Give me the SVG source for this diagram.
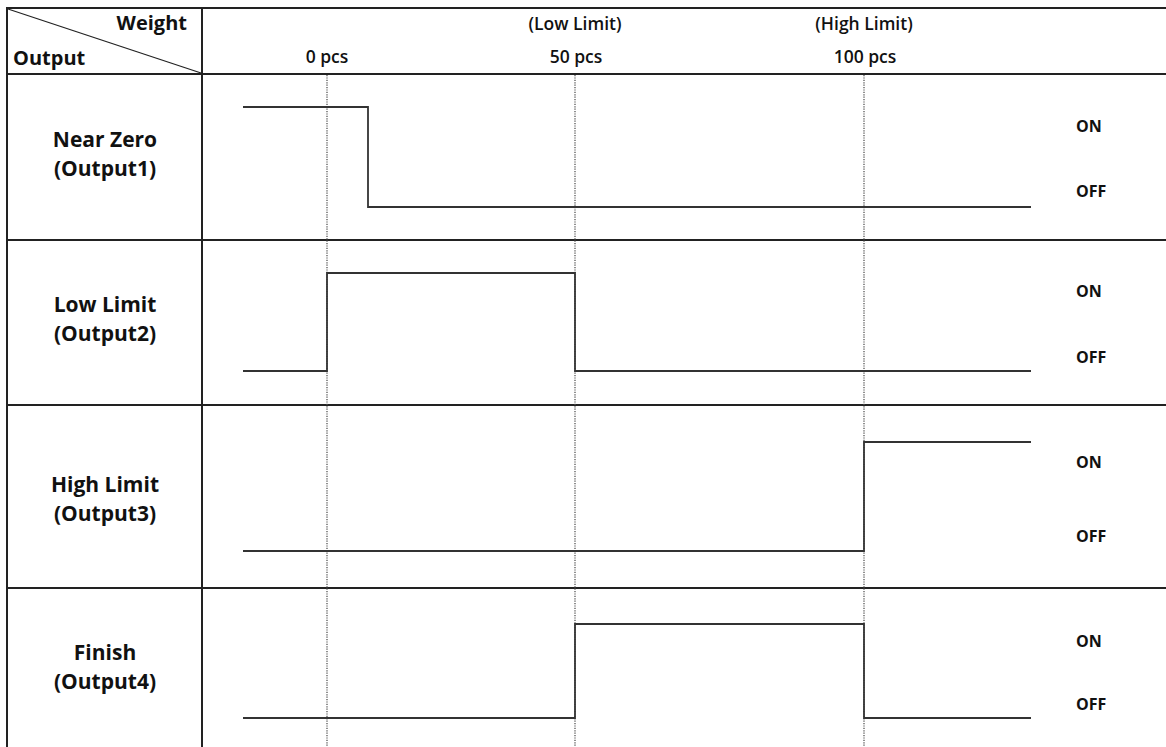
<svg xmlns="http://www.w3.org/2000/svg" width="1166" height="747" viewBox="0 0 1166 747">
<style>
.grid{stroke:#222;stroke-width:2;fill:none}
.diag{stroke:#222;stroke-width:1.3;fill:none}
.dot{stroke:#555;stroke-width:1.3;stroke-dasharray:1.2 1.2;fill:none}
.sig{stroke:#333;stroke-width:1.8;fill:none}
.hdr{font-family:"Open Sans","Liberation Sans",sans-serif;font-weight:700;font-size:20px;fill:#111}
.ax{font-family:"Open Sans","Liberation Sans",sans-serif;font-weight:600;font-size:17.5px;fill:#111;text-anchor:middle}
.lbl{font-family:"Open Sans","Liberation Sans",sans-serif;font-weight:700;font-size:21px;fill:#111;text-anchor:middle}
.st{font-family:"Open Sans","Liberation Sans",sans-serif;font-weight:700;font-size:16px;fill:#111}
</style>
<rect width="1166" height="747" fill="#fff"/>
<g id="table">
<line class="grid" x1="6" y1="8" x2="1166" y2="8"/>
<line class="grid" x1="6" y1="74" x2="1166" y2="74"/>
<line class="grid" x1="6" y1="240" x2="1166" y2="240"/>
<line class="grid" x1="6" y1="405" x2="1166" y2="405"/>
<line class="grid" x1="6" y1="588" x2="1166" y2="588"/>
<line class="grid" x1="7" y1="7" x2="7" y2="747"/>
<line class="grid" x1="202" y1="7" x2="202" y2="747"/>
<line class="diag" x1="8" y1="9" x2="201" y2="73"/>
<text class="hdr" x="187" y="30" text-anchor="end">Weight</text>
<text class="hdr" x="13" y="65">Output</text>
</g>
<g id="axis">
<text class="ax" x="327" y="63">0 pcs</text>
<text class="ax" x="575" y="30">(Low Limit)</text>
<text class="ax" x="576" y="63">50 pcs</text>
<text class="ax" x="864" y="30">(High Limit)</text>
<text class="ax" x="865" y="63">100 pcs</text>
</g>
<g id="guides">
<line class="dot" x1="327" y1="75" x2="327" y2="747"/>
<line class="dot" x1="575" y1="75" x2="575" y2="747"/>
<line class="dot" x1="864" y1="75" x2="864" y2="747"/>
</g>
<g id="row1">
<text class="lbl" x="105" y="147">Near Zero</text>
<text class="lbl" x="105" y="176">(Output1)</text>
<text class="st" x="1076" y="132">ON</text>
<text class="st" x="1076" y="197">OFF</text>
</g>
<g id="row2">
<text class="lbl" x="105" y="312">Low Limit</text>
<text class="lbl" x="105" y="341">(Output2)</text>
<text class="st" x="1076" y="297">ON</text>
<text class="st" x="1076" y="363">OFF</text>
</g>
<g id="row3">
<text class="lbl" x="105" y="492">High Limit</text>
<text class="lbl" x="105" y="521">(Output3)</text>
<text class="st" x="1076" y="468">ON</text>
<text class="st" x="1076" y="542">OFF</text>
</g>
<g id="row4">
<text class="lbl" x="105" y="660">Finish</text>
<text class="lbl" x="105" y="689">(Output4)</text>
<text class="st" x="1076" y="647">ON</text>
<text class="st" x="1076" y="710">OFF</text>
</g>
<g id="connectors">
<polyline class="sig" points="243,107 368,107 368,207 1031,207"/>
<polyline class="sig" points="243,371 327,371 327,273 575,273 575,371 1031,371"/>
<polyline class="sig" points="243,551 864,551 864,442 1031,442"/>
<polyline class="sig" points="243,718 575,718 575,624 864,624 864,718 1031,718"/>
</g>
</svg>
